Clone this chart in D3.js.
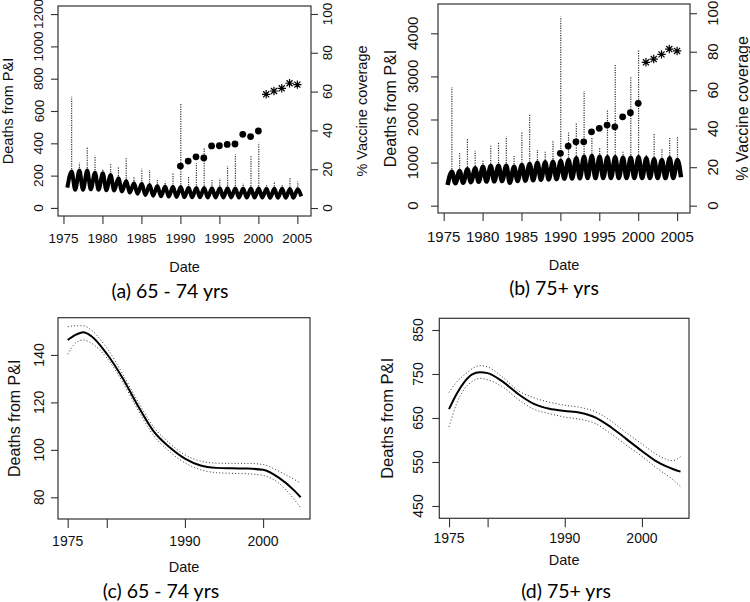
<!DOCTYPE html>
<html>
<head>
<meta charset="utf-8">
<script src="https://cdn.jsdelivr.net/npm/d3@7"></script>
<style>
    body { margin: 0; background: #fff; }
    svg text { font-family: 'Liberation Sans', Arial, sans-serif; fill: #111; }
    svg text.caption { font-family: Lato, 'Open Sans', sans-serif; fill: #000; }
</style>
</head>
<body>
<script>

// ---- data ----

// winter peaks (January) and summer troughs of the fitted seasonal curve
var peakYears = [1976, 1977, 1978, 1979, 1980, 1981, 1982, 1983, 1984, 1985, 1986, 1987, 1988, 1989, 1990,
                 1991, 1992, 1993, 1994, 1995, 1996, 1997, 1998, 1999, 2000, 2001, 2002, 2003, 2004, 2005]
var troughYears = [1975, 1976, 1977, 1978, 1979, 1980, 1981, 1982, 1983, 1984, 1985, 1986, 1987, 1988, 1989, 1990,
                   1991, 1992, 1993, 1994, 1995, 1996, 1997, 1998, 1999, 2000, 2001, 2002, 2003, 2004, 2005]

// (a) 65 - 74 yrs
var aFitPeaks = [225, 232, 231, 218, 214, 204, 183, 167, 152, 150, 142, 136, 132, 131, 130,
                 125, 124, 123, 122, 122, 122, 121, 121, 120, 120, 119, 118, 118, 117, 116]
var aFitTroughs = [126, 112, 112, 115, 112, 110, 108, 102, 95, 88, 80, 76, 72, 70, 68, 66,
                   66, 66, 65, 65, 65, 65, 64, 64, 64, 64, 63, 63, 63, 63, 72]
var aSpikes = [688, 280, 375, 323, 240, 270, 251, 313, 194, 243, 235, 177, 163, 218, 647,
               194, 276, 369, 173, 183, 260, 332, 152, 328, 404, 140, 163, 142, 190, 163]

// (b) 75+ yrs
var bFitPeaks = [790, 805, 843, 867, 905, 920, 928, 928, 905, 944, 967, 998, 1005, 1021, 1036,
                 1060, 1099, 1137, 1152, 1137, 1122, 1122, 1115, 1115, 1122, 1099, 1076, 1060, 1099, 1060]
var bFitTroughs = [480, 520, 530, 545, 555, 560, 565, 570, 530, 570, 580, 590, 600, 610, 615, 625,
                   630, 635, 640, 640, 640, 640, 640, 640, 640, 640, 640, 640, 640, 640, 660]
var bSpikes = [2750, 1215, 1564, 1276, 1060, 1408, 1462, 1601, 1176, 1717, 2128, 1292, 1253, 1509, 4385,
               1717, 1911, 2650, 1601, 1350, 2221, 3264, 1280, 2993, 3612, 1176, 1679, 1331, 1578, 1601]

// vaccine coverage (%)
var dotYears = [1990, 1991, 1992, 1993, 1994, 1995, 1996, 1997, 1998, 1999, 2000]
var starYears = [2001, 2002, 2003, 2004, 2005]
var aVaccDots = [21.6, 24.2, 26.4, 25.8, 32.0, 32.1, 32.8, 33.0, 38.0, 36.8, 39.7]
var aVaccStars = [58.6, 60.3, 61.7, 64.3, 63.6]
var bVaccDots = [27.2, 31.0, 33.2, 33.2, 38.4, 40.2, 41.9, 41.0, 46.2, 48.3, 53.2]
var bVaccStars = [74.5, 76.2, 78.6, 81.4, 80.4]

// (c) trend 65 - 74 yrs
var cYears = [1975, 1976, 1977, 1978, 1980, 1982, 1984, 1986, 1988, 1990, 1992, 1994, 1996, 1998, 2000, 2002, 2004, 2004.8]
var cTrend = [146.3, 148.5, 149.6, 148.0, 140.5, 130.4, 118.5, 107.8, 101.2, 96.3, 93.4, 92.4, 92.2, 92.1, 91.6, 88.3, 82.8, 80.0]
var cUpper = [151.9, 152.3, 152.3, 150.5, 143.0, 132.2, 120.3, 109.6, 102.9, 97.9, 95.3, 94.4, 94.3, 94.3, 93.8, 91.0, 87.5, 86.0]
var cLower = [140.3, 145.0, 146.3, 145.0, 138.8, 128.7, 116.8, 106.0, 99.4, 94.5, 91.6, 90.4, 90.1, 89.9, 89.2, 86.0, 79.0, 75.6]

// (d) trend 75+ yrs
var dYears = [1975, 1976, 1977, 1978, 1979, 1980, 1982, 1984, 1986, 1988, 1990, 1992, 1994, 1996, 1998, 2000, 2002, 2004, 2005]
var dTrend = [670, 705, 732, 749, 754, 752, 732, 704, 682, 671, 666, 662, 651, 629, 602, 575, 550, 534, 528]
var dUpper = [708, 732, 748, 762, 769, 766, 742, 712, 696, 686, 679, 674, 664, 643, 616, 591, 566, 553, 562]
var dLower = [630, 683, 716, 733, 740, 737, 720, 692, 670, 660, 652, 647, 637, 614, 588, 563, 535, 510, 494]

// tick values
var seasonXTicks = [1975, 1980, 1985, 1990, 1995, 2000, 2005]
var trendXTicks = [1975, 1980, 1990, 2000]
var trendXLabels = ['1975', '', '1990', '2000']
var aYTicks = [0, 200, 400, 600, 800, 1000, 1200]
var bYTicks = [0, 1000, 2000, 3000, 4000]
var vaccTicks = [0, 20, 40, 60, 80, 100]
var cYTicks = [80, 100, 120, 140]
var dYTicks = [450, 550, 650, 750, 850]

var peakOffset = 0.05     // January
var troughOffset = 0.5    // July

var svg = d3.select('body')
                .append('svg')
                    .attr('width', 750)
                    .attr('height', 602)

function drawBox(g, p) {
    g.append('rect')
        .attr('x', p.left)
        .attr('y', p.top)
        .attr('width', p.right - p.left)
        .attr('height', p.bottom - p.top)
        .attr('fill', 'none')
        .attr('stroke', '#333')
        .attr('stroke-width', 1.2)
}

function rotatedLabels(g, values, labels, xpos, scale, size) {
    values.forEach(function(v, i) {
        var yy = scale(v)
        g.append('text')
            .text(labels ? labels[i] : v)
            .attr('x', xpos)
            .attr('y', yy)
            .attr('transform', 'rotate(-90,' + xpos + ',' + yy + ')')
            .attr('text-anchor', 'middle')
            .attr('dominant-baseline', 'central')
            .style('font-size', size + 'px')
    })
}

function drawAxes(g, p, x, y) {
    var xAxis = d3.axisBottom(x).tickValues(p.xTicks).tickSize(p.tickLen).tickFormat('')
    g.append('g')
        .attr('transform', 'translate(0,' + p.bottom + ')')
        .call(xAxis)
        .call(a => a.select('.domain').remove())
    var yAxis = d3.axisLeft(y).tickValues(p.yTicks).tickSize(7).tickFormat('')
    g.append('g')
        .attr('transform', 'translate(' + p.left + ',0)')
        .call(yAxis)
        .call(a => a.select('.domain').remove())
    g.selectAll('.tick line').attr('stroke', '#333').attr('stroke-width', 1.1)

    p.xTicks.forEach(function(t, i) {
        g.append('text')
            .text(p.xLabels ? p.xLabels[i] : t)
            .attr('x', x(t))
            .attr('y', p.xLabelY)
            .attr('text-anchor', 'middle')
            .attr('dominant-baseline', 'central')
            .style('font-size', p.tickFont + 'px')
    })
    rotatedLabels(g, p.yTicks, null, p.yLabelX, y, p.tickFont)

    g.append('text')
        .text('Date')
        .attr('x', (p.left + p.right) / 2)
        .attr('y', p.dateY)
        .attr('text-anchor', 'middle')
        .attr('dominant-baseline', 'central')
        .style('font-size', p.dateFont + 'px')
    var cy = (p.top + p.bottom) / 2
    g.append('text')
        .text('Deaths from P&I')
        .attr('x', p.yTitleX)
        .attr('y', cy)
        .attr('transform', 'rotate(-90,' + p.yTitleX + ',' + cy + ')')
        .attr('text-anchor', 'middle')
        .attr('dominant-baseline', 'central')
        .style('font-size', p.titleFont + 'px')
    g.append('text')
        .classed('caption', true)
        .text(p.caption)
        .attr('x', p.captionX)
        .attr('y', p.captionY)
        .attr('text-anchor', 'middle')
        .attr('dominant-baseline', 'central')
        .style('font-size', p.captionFont + 'px')
}

function asterisk(r) {
    var q = r * 0.72
    return 'M' + (-r) + ',0H' + r + 'M0,' + (-r) + 'V' + r +
           'M' + (-q) + ',' + (-q) + 'L' + q + ',' + q + 'M' + (-q) + ',' + q + 'L' + q + ',' + (-q)
}

function drawSeasonalPanel(p) {
    var g = svg.append('g')
    var x = d3.scaleLinear().domain(p.xDomain).range([p.left, p.right])
    var y = d3.scaleLinear().domain(p.yDomain).range([p.bottom, p.top])
    var v = d3.scaleLinear().domain(p.vDomain).range([p.bottom, p.top])

    // observed winter excess, dotted
    g.selectAll('.spike')
        .data(p.spikes)
        .enter()
            .append('line')
                .attr('x1', (d, i) => x(peakYears[i] + peakOffset))
                .attr('x2', (d, i) => x(peakYears[i] + peakOffset))
                .attr('y1', (d, i) => y(p.fitPeaks[i]))
                .attr('y2', d => y(d))
                .attr('stroke', '#333')
                .attr('stroke-width', 1.2)
                .attr('stroke-dasharray', '1.2,1.2')

    // fitted seasonal curve
    var pts = []
    troughYears.forEach((yr, i) => pts.push([yr + troughOffset, p.fitTroughs[i]]))
    peakYears.forEach((yr, i) => pts.push([yr + peakOffset, p.fitPeaks[i]]))
    pts.sort((a, b) => a[0] - b[0])
    var line = d3.line()
                    .x(d => x(d[0]))
                    .y(d => y(d[1]))
                    .curve(d3.curveMonotoneX)
    g.append('path')
        .attr('d', line(pts))
        .attr('fill', 'none')
        .attr('stroke', '#000')
        .attr('stroke-width', p.fitWidth)

    // vaccine coverage
    g.selectAll('.vdot')
        .data(p.vaccDots)
        .enter()
            .append('circle')
                .attr('cx', (d, i) => x(dotYears[i]))
                .attr('cy', d => v(d))
                .attr('r', 3.4)
                .attr('fill', '#000')
    g.selectAll('.vstar')
        .data(p.vaccStars)
        .enter()
            .append('path')
                .attr('d', asterisk(4.2))
                .attr('transform', (d, i) => 'translate(' + x(starYears[i]) + ',' + v(d) + ')')
                .attr('stroke', '#000')
                .attr('stroke-width', 1.2)
                .attr('fill', 'none')

    drawBox(g, p)
    drawAxes(g, p, x, y)

    var vAxis = d3.axisRight(v).tickValues(vaccTicks).tickSize(7).tickFormat('')
    g.append('g')
        .attr('transform', 'translate(' + p.right + ',0)')
        .call(vAxis)
        .call(a => a.select('.domain').remove())
        .selectAll('.tick line').attr('stroke', '#333').attr('stroke-width', 1.1)
    rotatedLabels(g, vaccTicks, null, p.vLabelX, v, p.tickFont)
    var cy = (p.top + p.bottom) / 2
    g.append('text')
        .text('% Vaccine coverage')
        .attr('x', p.vTitleX)
        .attr('y', cy)
        .attr('transform', 'rotate(-90,' + p.vTitleX + ',' + cy + ')')
        .attr('text-anchor', 'middle')
        .attr('dominant-baseline', 'central')
        .style('font-size', p.titleFont + 'px')
}

function drawTrendPanel(p) {
    var g = svg.append('g')
    var x = d3.scaleLinear().domain(p.xDomain).range([p.left, p.right])
    var y = d3.scaleLinear().domain(p.yDomain).range([p.bottom, p.top])
    var line = d3.line()
                    .x((d, i) => x(p.years[i]))
                    .y(d => y(d))
                    .curve(d3.curveMonotoneX)

    ;[p.upper, p.lower].forEach(function(band) {
        g.append('path')
            .attr('d', line(band))
            .attr('fill', 'none')
            .attr('stroke', '#333')
            .attr('stroke-width', 1)
            .attr('stroke-dasharray', '1,2.2')
    })
    g.append('path')
        .attr('d', line(p.trend))
        .attr('fill', 'none')
        .attr('stroke', '#000')
        .attr('stroke-width', 2)

    drawBox(g, p)
    drawAxes(g, p, x, y)
}

drawSeasonalPanel({
    left: 58, right: 311, top: 6, bottom: 216,
    xDomain: [1974.3, 2006.75], yDomain: [-50, 1250], vDomain: [-4.1, 104.1],
    xTicks: seasonXTicks, yTicks: aYTicks, tickLen: 8,
    fitPeaks: aFitPeaks, fitTroughs: aFitTroughs, spikes: aSpikes, fitWidth: 4,
    vaccDots: aVaccDots, vaccStars: aVaccStars,
    xLabelY: 238, yLabelX: 39, yTitleX: 8, vLabelX: 328, vTitleX: 362,
    dateY: 267, captionX: 170, captionY: 290,
    tickFont: 13.5, titleFont: 14.5, dateFont: 14.5, captionFont: 19.5,
    caption: '(a) 65 - 74 yrs'
})

drawSeasonalPanel({
    left: 438, right: 690, top: 4, bottom: 213,
    xDomain: [1974.27, 2006.66], yDomain: [-170, 4680], vDomain: [-3.8, 104.8],
    xTicks: seasonXTicks, yTicks: bYTicks, tickLen: 8,
    fitPeaks: bFitPeaks, fitTroughs: bFitTroughs, spikes: bSpikes, fitWidth: 4.5,
    vaccDots: bVaccDots, vaccStars: bVaccStars,
    xLabelY: 236.5, yLabelX: 413, yTitleX: 390, vLabelX: 713, vTitleX: 742,
    dateY: 265, captionX: 554, captionY: 287,
    tickFont: 15, titleFont: 16, dateFont: 14.5, captionFont: 19.5,
    caption: '(b) 75+ yrs'
})

drawTrendPanel({
    left: 58, right: 310, top: 317.7, bottom: 519,
    xDomain: [1973.76, 2006.0], yDomain: [70.85, 155.7],
    xTicks: trendXTicks, xLabels: trendXLabels, yTicks: cYTicks, tickLen: 9,
    years: cYears, trend: cTrend, upper: cUpper, lower: cLower,
    xLabelY: 540.7, yLabelX: 39, yTitleX: 15,
    dateY: 566.7, captionX: 161, captionY: 590,
    tickFont: 14, titleFont: 16, dateFont: 14.5, captionFont: 19.5,
    caption: '(c) 65 - 74 yrs'
})

drawTrendPanel({
    left: 439.3, right: 689, top: 318.3, bottom: 518.3,
    xDomain: [1973.74, 2006.1], yDomain: [422, 876.6],
    xTicks: trendXTicks, xLabels: trendXLabels, yTicks: dYTicks, tickLen: 9,
    years: dYears, trend: dTrend, upper: dUpper, lower: dLower,
    xLabelY: 538.3, yLabelX: 418.3, yTitleX: 387,
    dateY: 560, captionX: 566, captionY: 590,
    tickFont: 14, titleFont: 16.5, dateFont: 14.5, captionFont: 19.5,
    caption: '(d) 75+ yrs'
})

</script>
</body>
</html>
